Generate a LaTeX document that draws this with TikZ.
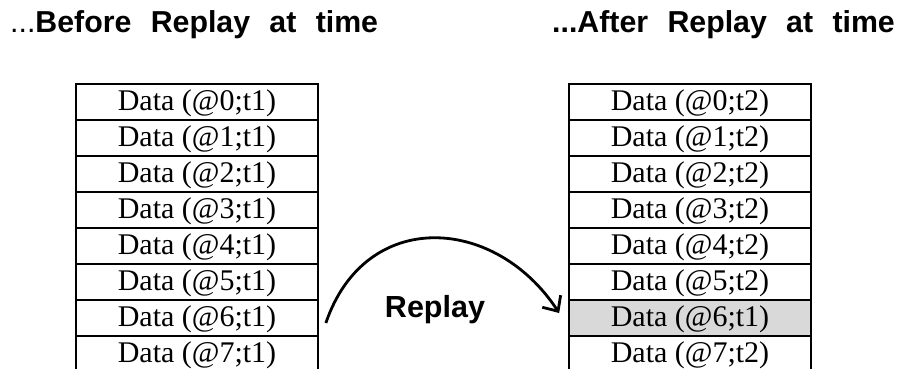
\documentclass[tikz,border=0pt]{standalone}
\usepackage{fontspec}
\setmainfont{Liberation Serif}
\setsansfont{Liberation Sans}
\newfontfamily\headfont[WordSpace=2.3]{Liberation Sans}
\usetikzlibrary{arrows.meta, calc}
\definecolor{cellgrey}{HTML}{D9D9D9}
\tikzset{
  every picture/.style={x=1pt, y=-1pt},
  cell/.style={draw=black, line width=1.7pt, fill=#1, minimum width=242pt, minimum height=36pt,
    inner sep=0pt, font=\fontsize{30}{31}\selectfont, text height=21pt, text depth=4pt},
  cell/.default=white,
  heading/.style={font=\headfont\bfseries\fontsize{30.3}{32}\selectfont, anchor=base west, inner sep=0pt},
  label/.style={font=\sffamily\bfseries\fontsize{30.5}{32}\selectfont, anchor=base, inner sep=0pt},
  replay/.style={-{Straight Barb[length=12pt, width=22pt]}, line width=2.8pt},
}

\begin{document}
\begin{tikzpicture}
  \clip (0,0) rectangle (904,369);
  % headings
  \node[heading] (hb) at (10,33) {{\mdseries...}Before Replay at time};
  \node[heading] (ha) at (552,33) {...After Replay at time};
  % memory before the replay
  \foreach \i in {0,...,7}
    \node[cell] (l\i) at (197,{102+36*\i}) {Data (@\i;t1)};
  % memory after the replay, row 6 keeps the old value
  \foreach \i in {0,...,7}{
    \ifnum\i=6
      \node[cell=cellgrey] (r\i) at (690,{102+36*\i}) {Data (@\i;t1)};
    \else
      \node[cell] (r\i) at (690,{102+36*\i}) {Data (@\i;t2)};
    \fi
  }
  % replay arrow
  \draw[replay] ([shift={(7,5)}]l6.east) .. controls (365,208) and (495,215) .. ([shift={(-9,-5)}]r6.west);
  \node[label] (rp) at (435,317) {Replay};
\end{tikzpicture}
\end{document}
